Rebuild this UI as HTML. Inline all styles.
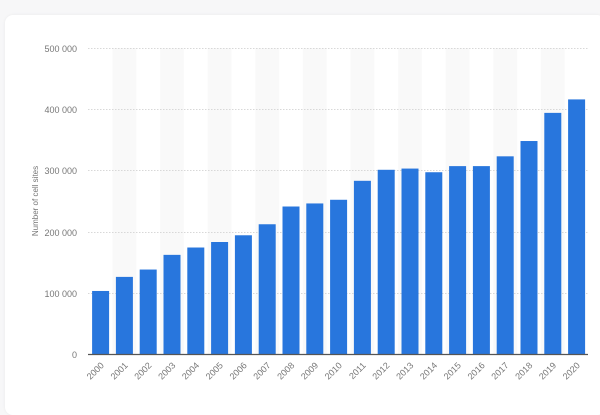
<!DOCTYPE html>
<html><head><style>
body{margin:0;background:#f7f7f8;overflow:hidden;}
.card{position:absolute;left:5px;top:15px;width:600px;height:400px;background:#fff;border-radius:8px;box-shadow:0 0 3px rgba(0,0,0,0.06);}
svg{position:absolute;left:0;top:0;}
text{font-family:"Liberation Sans",sans-serif;fill:#777;}
</style></head><body>
<div class="card"></div>
<svg width="600" height="400" viewBox="0 0 600 400">
<g id="bands" fill="#f9f9f9"></g>
<g stroke="#d8d8d8" stroke-dasharray="1.5,1.5" stroke-width="1">
<line x1="88" x2="588" y1="48.5" y2="48.5"/>
<line x1="88" x2="588" y1="109.5" y2="109.5"/>
<line x1="88" x2="588" y1="170.5" y2="170.5"/>
<line x1="88" x2="588" y1="232.5" y2="232.5"/>
<line x1="88" x2="588" y1="293.5" y2="293.5"/>
</g>
<g font-size="9" text-anchor="end">
<text x="77" y="52">500 000</text>
<text x="77" y="113">400 000</text>
<text x="77" y="174">300 000</text>
<text x="77" y="236">200 000</text>
<text x="77" y="297">100 000</text>
<text x="77" y="358">0</text>
</g>
<text font-size="8" transform="translate(38,201) rotate(-90)" text-anchor="middle">Number of cell sites</text>
<g id="bars" fill="#2876dd"></g>
<line x1="88" x2="588" y1="354.5" y2="354.5" stroke="#555" stroke-width="1.2"/>
<g id="labels" font-size="9" text-anchor="end"></g>
</svg>
<script>
var v=[103,126,138,162,174,183,194,212,241,246,252,283,301,303,297,307,307,323,348,394,416];
var ns="http://www.w3.org/2000/svg",b=document.getElementById('bars'),l=document.getElementById('labels'),bd=document.getElementById('bands');
for(var i=0;i<21;i++){var c=100.6+i*23.8;
if(i%2==1){var r=document.createElementNS(ns,'rect');r.setAttribute('x',c-11.9);r.setAttribute('y',48);r.setAttribute('width',23.8);r.setAttribute('height',306);bd.appendChild(r);}
var h=v[i]*0.612;var r2=document.createElementNS(ns,'rect');r2.setAttribute('x',c-8.5);r2.setAttribute('y',354-h);r2.setAttribute('width',17);r2.setAttribute('height',h);b.appendChild(r2);
var t=document.createElementNS(ns,'text');t.setAttribute('transform','translate('+(c+4)+',366) rotate(-45)');t.textContent=2000+i;l.appendChild(t);}
</script>
</body></html>
